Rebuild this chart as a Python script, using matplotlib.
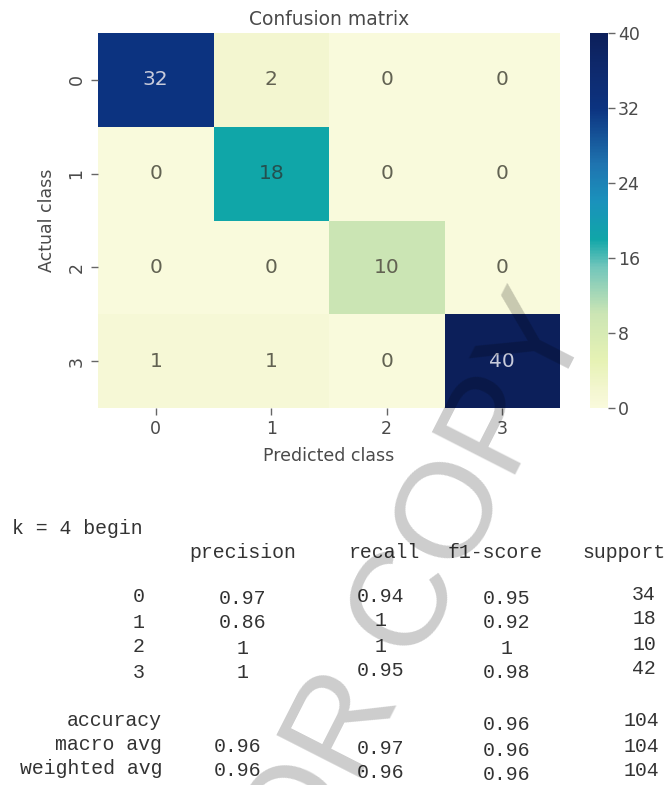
import matplotlib
matplotlib.use("Agg")
import matplotlib.pyplot as plt
from matplotlib.colors import LinearSegmentedColormap
import numpy as np
import seaborn as sns

# ---- data -------------------------------------------------------------
class_names = ["0", "1", "2", "3"]
confusion = [
    [32, 2, 0, 0],
    [0, 18, 0, 0],
    [0, 0, 10, 0],
    [1, 1, 0, 40],
]
cbar_ticks = [0, 8, 16, 24, 32, 40]

precision = [0.97, 0.86, 1, 1]
recall = [0.94, 1, 1, 0.95]
f1_score = [0.95, 0.92, 1, 0.98]
support = [34, 18, 10, 42]
accuracy = 0.96
total_support = 104
macro_avg = [0.96, 0.97, 0.96]
weighted_avg = [0.96, 0.96, 0.96]

W, H = 669, 785
fig = plt.figure(figsize=(W / 100, H / 100), dpi=100)


def box(x0, y0, x1, y1):
    """Pixel box (top-left origin) -> figure-fraction rect."""
    return [x0 / W, 1 - y1 / H, (x1 - x0) / W, (y1 - y0) / H]


def fx(x):
    return x / W


def fy(y):
    return 1 - y / H


# yellow-green-blue palette, slightly deeper in the mid/high range
_stops = [
    (0.000, "#f9fadc"),
    (0.050, "#f3f6cf"),
    (0.125, "#e6f2b4"),
    (0.250, "#cce5b4"),
    (0.375, "#72c6bb"),
    (0.450, "#10a6a8"),
    (0.550, "#1a92bc"),
    (0.650, "#1f74b0"),
    (0.800, "#0c3380"),
    (0.900, "#0e2a6e"),
    (1.000, "#0c1f5a"),
]
ylgnbu_deep = LinearSegmentedColormap.from_list("ylgnbu_deep", _stops)

# ---- confusion matrix heatmap ----------------------------------------
ax = fig.add_axes(box(98, 33, 560, 408))
cax = fig.add_axes(box(590, 33, 608, 408))
cm = np.array(confusion)
sns.heatmap(cm, annot=False, cmap=ylgnbu_deep, vmin=0, vmax=40, ax=ax,
            cbar_ax=cax, cbar_kws={"ticks": cbar_ticks},
            xticklabels=class_names, yticklabels=class_names)

for i in range(cm.shape[0]):
    for j in range(cm.shape[1]):
        v = cm[i, j]
        if v >= 25:
            col = "#c8cbdb"
        elif v >= 15:
            col = "#24504f"
        else:
            col = "#626252"
        ax.text(j + 0.5, i + 0.5, f"{v:d}", ha="center", va="center",
                fontsize=14.5, color=col)

txt = "#4a4a4a"
ax.set_title("Confusion matrix", fontsize=13.5, color=txt, pad=6)
ax.set_xlabel("Predicted class", fontsize=12.5, color=txt, labelpad=6)
ax.set_ylabel("Actual class", fontsize=12.5, color=txt, labelpad=8)
ax.tick_params(axis="both", length=5, width=1, color="#666666",
               labelcolor=txt, labelsize=12.5, pad=4)
plt.setp(ax.get_yticklabels(), rotation=90, va="center")
plt.setp(ax.get_xticklabels(), rotation=0)

cax.tick_params(length=5, width=1, color="#666666", labelcolor=txt,
                labelsize=12.5, pad=2)
cbar = ax.collections[0].colorbar
if cbar is not None:
    cbar.outline.set_visible(False)

# ---- classification report -------------------------------------------
mono = dict(family=["Liberation Mono", "DejaVu Sans Mono"], fontsize=14.3,
            color="#333333")


def fmt(v):
    return f"{v:g}"


fig.text(fx(12), fy(528), "k = 4 begin", ha="left", va="center", **mono)

col_prec, col_rec, col_f1, col_sup, col_lab = 243, 381, 507, 644, 139
fig.text(fx(243), fy(552), "precision", ha="center", va="center", **mono)
fig.text(fx(384), fy(552), "recall", ha="center", va="center", **mono)
fig.text(fx(495), fy(552), "f1-score", ha="center", va="center", **mono)
fig.text(fx(624), fy(552), "support", ha="center", va="center", **mono)

row_y = [597, 622, 647, 672]
for k, name in enumerate(class_names):
    y = row_y[k]
    fig.text(fx(col_lab), fy(y), name, ha="center", va="center", **mono)
    fig.text(fx(col_prec), fy(y + 1), fmt(precision[k]), ha="center", va="center", **mono)
    fig.text(fx(col_rec), fy(y - 1), fmt(recall[k]), ha="center", va="center", **mono)
    fig.text(fx(col_f1), fy(y + 1), fmt(f1_score[k]), ha="center", va="center", **mono)
    fig.text(fx(col_sup), fy(y - 3), f"{support[k]}", ha="center", va="center", **mono)

summary_y = [721, 746, 771]
fig.text(fx(162), fy(summary_y[0]), "accuracy", ha="right", va="center", **mono)
fig.text(fx(col_f1), fy(summary_y[0] + 3), fmt(accuracy), ha="center", va="center", **mono)
fig.text(fx(641), fy(summary_y[0]), f"{total_support}", ha="center", va="center", **mono)

for y, label, vals in [(summary_y[1], "macro avg", macro_avg),
                       (summary_y[2], "weighted avg", weighted_avg)]:
    fig.text(fx(162), fy(y - 2), label, ha="right", va="center", **mono)
    fig.text(fx(237), fy(y), fmt(vals[0]), ha="center", va="center", **mono)
    fig.text(fx(col_rec), fy(y + 2), fmt(vals[1]), ha="center", va="center", **mono)
    fig.text(fx(col_f1), fy(y + 4), fmt(vals[2]), ha="center", va="center", **mono)
    fig.text(fx(641), fy(y), f"{total_support}", ha="center", va="center", **mono)

# ---- watermark --------------------------------------------------------
fig.text(fx(388), fy(617), "FOR COPY", rotation=63, rotation_mode="anchor",
         ha="center", va="center_baseline", fontsize=98,
         family=["Liberation Sans", "DejaVu Sans"], color="black",
         alpha=0.2, zorder=20)

fig.savefig("out.png", dpi=100, facecolor="white")
